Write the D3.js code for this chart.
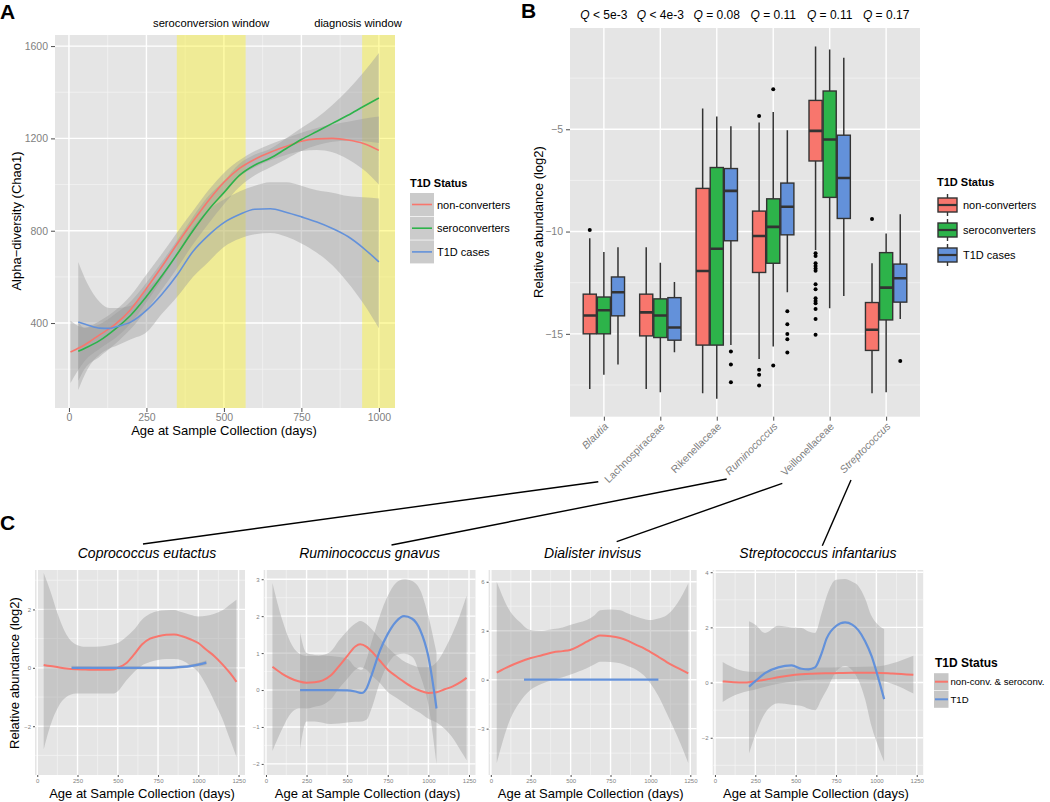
<!DOCTYPE html>
<html><head><meta charset="utf-8">
<script src="https://cdn.jsdelivr.net/npm/d3@7"></script>
<style>body{margin:0;background:#fff;}</style>
</head><body><script>
// ---------------- DATA ----------------
// Panel A: alpha diversity smooth fits (days, fit, lower CI, upper CI)
const ncDays = [5, 50, 100, 150, 200, 250, 300, 350, 400, 450, 500, 550, 600, 650, 700, 750, 800, 850, 900, 950, 1000];
const ncFit  = [275, 305, 350, 395, 460, 550, 645, 745, 840, 930, 1010, 1070, 1110, 1140, 1165, 1188, 1198, 1200, 1193, 1178, 1148];
const ncLo   = [140, 235, 290, 335, 400, 490, 590, 695, 795, 885, 970, 1035, 1075, 1105, 1128, 1145, 1150, 1140, 1110, 1065, 1000];
const ncHi   = [410, 380, 410, 455, 520, 610, 700, 795, 885, 975, 1050, 1105, 1145, 1175, 1200, 1225, 1245, 1260, 1272, 1285, 1295];

const scDays = [30, 50, 100, 150, 200, 250, 300, 350, 400, 450, 500, 550, 600, 650, 700, 750, 800, 850, 900, 950, 1000];
const scFit  = [278, 290, 325, 375, 435, 515, 605, 700, 800, 890, 965, 1040, 1085, 1115, 1155, 1195, 1230, 1265, 1300, 1338, 1375];
const scLo   = [150, 200, 255, 310, 375, 455, 545, 640, 740, 830, 915, 990, 1040, 1075, 1110, 1145, 1170, 1185, 1190, 1188, 1180];
const scHi   = [405, 380, 395, 440, 495, 575, 665, 760, 860, 950, 1015, 1090, 1130, 1155, 1200, 1245, 1290, 1345, 1410, 1485, 1570];

const tdDays = [30, 60, 100, 130, 150, 200, 250, 300, 350, 400, 450, 500, 550, 600, 650, 700, 750, 800, 850, 900, 950, 1000];
const tdFit  = [405, 392, 378, 377, 383, 405, 455, 525, 610, 710, 780, 835, 870, 893, 895, 880, 860, 838, 810, 775, 725, 665];
const tdLo   = [110, 200, 265, 290, 300, 330, 360, 440, 515, 600, 665, 730, 765, 785, 790, 775, 745, 705, 650, 575, 485, 378];
const tdHi   = [665, 570, 490, 465, 465, 475, 545, 610, 705, 815, 890, 935, 970, 995, 1010, 1010, 995, 975, 965, 950, 945, 940];

const seroWindow = [348, 570];
const diagWindow = [946, 1060];
const aXTicks = [0, 250, 500, 750, 1000];
const aYTicks = [400, 800, 1200, 1600];

const statusLabels = ["non-converters", "seroconverters", "T1D cases"];

// Panel B: boxplot stats [lower whisker, Q1, median, Q3, upper whisker]
const taxa = ["Blautia", "Lachnospiraceae", "Rikenellaceae", "Ruminococcus", "Veillonellaceae", "Streptococcus"];
const taxaItalic = [true, false, false, true, false, true];
const qLabels = ["< 5e-3", "< 4e-3", "= 0.08", "= 0.11", "= 0.11", "= 0.17"];
const bNonconv = [
  [-17.7, -15.0, -14.1, -13.06, -10.33],
  [-17.7, -15.1, -13.95, -13.06, -10.77],
  [-17.9, -15.55, -11.93, -7.89, -3.99],
  [-16.23, -12.0, -10.22, -9.0, -4.67],
  [-10.9, -6.55, -5.08, -3.59, -0.95],
  [-17.9, -15.81, -14.8, -13.47, -11.55]];
const bSero = [
  [-17.0, -15.0, -13.85, -13.2, -11.0],
  [-17.85, -15.18, -14.1, -13.29, -11.52],
  [-18.17, -15.55, -10.84, -6.87, -4.37],
  [-15.62, -11.55, -9.77, -8.4, -4.16],
  [-13.75, -8.33, -5.5, -3.13, -1.1],
  [-17.85, -14.32, -12.74, -11.03, -10.09]];
const bT1D = [
  [-16.5, -14.12, -12.97, -12.22, -10.77],
  [-15.9, -15.31, -14.69, -13.23, -12.46],
  [-15.55, -10.45, -8.01, -6.92, -4.85],
  [-12.97, -10.16, -8.79, -7.63, -5.05],
  [-13.15, -9.36, -7.38, -5.29, -1.5],
  [-14.28, -13.45, -12.28, -11.59, -9.15]];
const bNonconvOut = [[-9.93], [], [], [-4.35, -16.76, -17.0, -17.52],
  [-11.06, -11.2, -11.55, -11.68, -11.8, -11.91, -12.58, -12.82, -13.26, -13.39, -13.5, -13.78, -14.27, -15.05], [-9.39]];
const bSeroOut = [[], [], [], [-3.05, -16.55], [], []];
const bT1DOut = [[], [], [-15.86, -16.5, -17.37], [-13.9, -14.53, -15.01, -15.26, -15.91], [], [-16.33]];
const bYTicks = [-15, -10, -5];

// Panel C: species trajectories
const ceRedDays = [40, 80, 130, 180, 240, 300, 360, 420, 470, 500, 550, 600, 650, 700, 750, 800, 850, 900, 950, 1000, 1050, 1100, 1150, 1200, 1237];
const ceRedFit  = [0.1, 0.06, 0.02, -0.02, -0.05, -0.06, -0.07, -0.07, -0.06, 0.0, 0.15, 0.45, 0.8, 1.0, 1.08, 1.13, 1.14, 1.08, 0.98, 0.85, 0.62, 0.4, 0.12, -0.2, -0.48];
const ceRedHi   = [3.25, 2.65, 1.8, 1.15, 0.8, 0.72, 0.72, 0.75, 0.8, 0.85, 1.05, 1.3, 1.65, 1.85, 1.95, 1.97, 1.98, 1.9, 1.82, 1.76, 1.78, 1.85, 1.97, 2.18, 2.33];
const ceRedLo   = [-2.8, -2.0, -1.34, -1.0, -0.88, -0.88, -0.88, -0.88, -0.88, -0.8, -0.45, -0.15, 0.08, 0.2, 0.27, 0.3, 0.3, 0.25, 0.08, -0.15, -0.6, -1.15, -1.75, -2.5, -3.05];
const ceBlueDays = [213, 300, 400, 500, 600, 700, 800, 850, 900, 950, 1000, 1050];
const ceBlueFit  = [0, 0, 0, 0, 0, 0, 0, 0.01, 0.03, 0.06, 0.11, 0.18];
const ceBlueHi   = [0.07, 0.06, 0.05, 0.05, 0.05, 0.05, 0.05, 0.06, 0.08, 0.11, 0.17, 0.26];
const ceBlueLo   = [-0.07, -0.06, -0.05, -0.05, -0.05, -0.05, -0.05, -0.04, -0.02, 0.01, 0.05, 0.1];

const rgRedDays = [40, 100, 150, 200, 250, 300, 350, 400, 450, 500, 550, 580, 620, 650, 700, 750, 800, 850, 900, 950, 1000, 1050, 1100, 1150, 1200, 1235];
const rgRedFit  = [0.63, 0.44, 0.32, 0.24, 0.2, 0.21, 0.26, 0.4, 0.65, 0.92, 1.18, 1.24, 1.17, 1.05, 0.8, 0.55, 0.38, 0.22, 0.08, -0.02, -0.08, -0.06, 0.02, 0.1, 0.22, 0.33];
const rgRedHi   = [2.9, 1.9, 1.3, 1.0, 0.92, 0.92, 0.95, 1.05, 1.35, 1.6, 1.8, 1.87, 1.78, 1.65, 1.4, 1.15, 0.95, 0.78, 0.68, 0.62, 0.62, 0.75, 1.1, 1.55, 2.1, 2.55];
const rgRedLo   = [-1.65, -1.05, -0.65, -0.5, -0.5, -0.45, -0.4, -0.25, 0.05, 0.3, 0.55, 0.62, 0.55, 0.4, 0.2, -0.05, -0.2, -0.35, -0.5, -0.62, -0.78, -0.88, -1.05, -1.3, -1.65, -1.9];
const rgBlueDays = [210, 250, 300, 400, 500, 550, 590, 620, 650, 700, 750, 800, 850, 900, 950, 1000, 1050];
const rgBlueFit  = [0, 0, 0, 0, -0.01, -0.04, -0.08, 0.05, 0.4, 1.05, 1.52, 1.85, 2.0, 1.93, 1.62, 0.9, -0.5];
const rgBlueHi   = [1.55, 1.0, 0.95, 0.92, 0.85, 0.62, 0.55, 0.85, 1.3, 2.0, 2.55, 2.9, 3.0, 2.95, 2.7, 2.0, 1.0];
const rgBlueLo   = [-1.6, -0.85, -0.85, -0.92, -0.88, -0.86, -0.85, -0.8, -0.5, 0.2, 0.7, 0.95, 0.98, 0.9, 0.4, -0.4, -2.0];

const diRedDays = [37, 120, 180, 246, 320, 392, 450, 496, 550, 601, 650, 685, 750, 810, 860, 914, 960, 998, 1050, 1102, 1170, 1237];
const diRedFit  = [0.43, 0.84, 1.08, 1.31, 1.5, 1.68, 1.75, 1.82, 2.05, 2.33, 2.58, 2.7, 2.66, 2.55, 2.38, 2.12, 1.92, 1.71, 1.4, 1.08, 0.72, 0.38];
const diRedHi   = [6.0, 4.2, 3.55, 3.05, 3.0, 3.1, 3.2, 3.35, 3.5, 3.65, 3.95, 4.25, 4.3, 4.25, 4.05, 3.85, 3.72, 3.65, 3.75, 3.95, 4.7, 5.9];
const diRedLo   = [-5.1, -2.45, -1.4, -0.65, -0.25, 0.0, 0.15, 0.3, 0.5, 0.7, 0.95, 1.1, 1.08, 1.0, 0.82, 0.6, 0.25, -0.2, -1.0, -2.05, -3.5, -5.1];
const diBlueDays = [208, 1050];
const diBlueFit  = [0, 0];
const diBlueHi   = [0, 0];
const diBlueLo   = [0, 0];

const siRedDays = [48, 100, 176, 250, 310, 400, 496, 600, 723, 850, 992, 1100, 1229];
const siRedFit  = [0.04, 0.02, 0.0, 0.05, 0.1, 0.2, 0.28, 0.32, 0.34, 0.36, 0.36, 0.33, 0.28];
const siRedHi   = [0.75, 0.58, 0.42, 0.38, 0.4, 0.46, 0.52, 0.54, 0.55, 0.56, 0.58, 0.7, 0.97];
const siRedLo   = [-0.7, -0.52, -0.35, -0.25, -0.15, -0.03, 0.05, 0.1, 0.12, 0.13, 0.1, -0.05, -0.4];
const siBlueDays = [211, 250, 310, 392, 475, 537, 580, 620, 660, 692, 750, 806, 850, 888, 930, 971, 1010, 1048];
const siBlueFit  = [-0.15, 0.05, 0.34, 0.55, 0.62, 0.5, 0.48, 0.55, 1.05, 1.6, 2.05, 2.18, 2.1, 1.9, 1.5, 0.95, 0.2, -0.6];
const siBlueHi   = [2.22, 2.1, 1.8, 2.06, 2.0, 1.98, 1.85, 1.8, 2.5, 3.13, 3.73, 3.75, 3.65, 3.5, 3.05, 2.4, 2.1, 1.94];
const siBlueLo   = [-2.57, -1.9, -1.11, -0.75, -0.8, -0.85, -0.95, -1.0, -0.6, -0.27, 0.4, 0.6, 0.45, 0.1, -0.6, -1.6, -2.3, -2.87];

const cXTicks = [0, 250, 500, 750, 1000, 1250];
const cStatusLabels = ["non-conv. & seroconv.", "T1D"];

// ---------------- STYLE ----------------
const FONT = '"Liberation Sans", Arial, Helvetica, sans-serif';
const BG = '#E5E5E5';
const RED = '#F8766D', GREEN = '#2DB34A', BLUE = '#6391DA';
const RIBBON = '#999999', RIB_OP = 0.4;
const TICK_TXT = '#7F7F7F';
const fmtInt = d => d3.format('d')(d);

const svg = d3.select('body').append('svg')
  .attr('width', 1050).attr('height', 802)
  .style('font-family', FONT);
svg.append('rect').attr('width', 1050).attr('height', 802).attr('fill', '#fff');
const defs = svg.append('defs');
let clipN = 0;

function zip(xs, a, b, c) { return xs.map((d, i) => ({x: d, y: a[i], lo: b ? b[i] : null, hi: c ? c[i] : null})); }

// panel background + grid; ext = [x0, x1, yTop, yBottom]
function panel(ext, xs, ys, xMaj, xMin, yMaj, yMin) {
  const [x0, x1, yt, yb] = ext;
  const g = svg.append('g');
  g.append('rect').attr('x', x0).attr('y', yt).attr('width', x1 - x0).attr('height', yb - yt).attr('fill', BG);
  g.selectAll('.vmin').data(xMin).join('line').attr('x1', d => xs(d)).attr('x2', d => xs(d)).attr('y1', yt).attr('y2', yb).attr('stroke', '#F2F2F2').attr('stroke-width', 0.8);
  g.selectAll('.hmin').data(yMin).join('line').attr('y1', d => ys(d)).attr('y2', d => ys(d)).attr('x1', x0).attr('x2', x1).attr('stroke', '#F2F2F2').attr('stroke-width', 0.8);
  g.selectAll('.vmaj').data(xMaj).join('line').attr('x1', d => xs(d)).attr('x2', d => xs(d)).attr('y1', yt).attr('y2', yb).attr('stroke', '#fff').attr('stroke-width', 1.4);
  g.selectAll('.hmaj').data(yMaj).join('line').attr('y1', d => ys(d)).attr('y2', d => ys(d)).attr('x1', x0).attr('x2', x1).attr('stroke', '#fff').attr('stroke-width', 1.4);
  const id = 'clip' + (clipN++);
  defs.append('clipPath').attr('id', id).append('rect').attr('x', x0).attr('y', yt).attr('width', x1 - x0).attr('height', yb - yt);
  return svg.append('g').attr('clip-path', `url(#${id})`);
}

function styleAxis(sel, fs) {
  sel.select('.domain').remove();
  sel.selectAll('.tick line').attr('stroke', '#4D4D4D');
  sel.selectAll('.tick text').attr('fill', TICK_TXT).style('font-size', fs + 'px').style('font-family', FONT);
}

function ribbon(g, xs, ys, data) {
  g.append('path').datum(data)
    .attr('d', d3.area().x(d => xs(d.x)).y0(d => ys(d.lo)).y1(d => ys(d.hi)).curve(d3.curveMonotoneX))
    .attr('fill', RIBBON).attr('fill-opacity', RIB_OP);
}
function fitLine(g, xs, ys, data, color, lw) {
  g.append('path').datum(data)
    .attr('d', d3.line().x(d => xs(d.x)).y(d => ys(d.y)).curve(d3.curveMonotoneX))
    .attr('fill', 'none').attr('stroke', color).attr('stroke-width', lw);
}

function tag(txt, x, y) {
  svg.append('text').attr('x', x).attr('y', y).text(txt)
    .style('font-size', '21px').style('font-weight', 'bold').attr('fill', '#000');
}

// ---------------- PANEL A ----------------
const xA = d3.scaleLinear().domain([-45, 1052]).range([55, 395]);
const yA = d3.scaleLinear().domain([32, 1648]).range([408, 35]);
const gA = panel([55, 395, 35, 408], xA, yA, aXTicks, [125, 375, 625, 875], aYTicks, [200, 600, 1000, 1400]);
[seroWindow, diagWindow].forEach(w => {
  gA.append('rect').attr('x', xA(w[0])).attr('width', xA(w[1]) - xA(w[0]))
    .attr('y', yA(1648)).attr('height', yA(32) - yA(1648))
    .attr('fill', '#FFF514').attr('fill-opacity', 0.38);
});
const aSeries = [
  [zip(ncDays, ncFit, ncLo, ncHi), RED],
  [zip(scDays, scFit, scLo, scHi), GREEN],
  [zip(tdDays, tdFit, tdLo, tdHi), BLUE]];
aSeries.forEach(s => ribbon(gA, xA, yA, s[0]));
aSeries.forEach(s => fitLine(gA, xA, yA, s[0], s[1], 1.6));

svg.append('g').attr('transform', 'translate(55,0)')
  .call(d3.axisLeft(yA).tickValues(aYTicks).tickFormat(fmtInt).tickSize(4).tickPadding(3)).call(s => styleAxis(s, 10.5));
svg.append('g').attr('transform', 'translate(0,408)')
  .call(d3.axisBottom(xA).tickValues(aXTicks).tickFormat(fmtInt).tickSize(4).tickPadding(2)).call(s => styleAxis(s, 10.5));
svg.append('text').attr('x', xA(459)).attr('y', 27).attr('text-anchor', 'middle').style('font-size', '11.2px').text('seroconversion window');
svg.append('text').attr('x', 358).attr('y', 27).attr('text-anchor', 'middle').style('font-size', '11.2px').text('diagnosis window');
svg.append('text').attr('x', 224).attr('y', 435).attr('text-anchor', 'middle').style('font-size', '13px').text('Age at Sample Collection (days)');
svg.append('text').attr('transform', 'translate(21,221) rotate(-90)').attr('text-anchor', 'middle').style('font-size', '13px').text('Alpha\u2212diversity (Chao1)');
tag('A', 0, 19);

// Legend A
const legA = svg.append('g');
legA.append('text').attr('x', 410).attr('y', 187).style('font-size', '11px').style('font-weight', 'bold').text('T1D Status');
[RED, GREEN, BLUE].forEach((c, i) => {
  const cy = 204.5 + i * 23.7;
  legA.append('rect').attr('x', 410).attr('y', cy - 11.5).attr('width', 24).attr('height', 23).attr('fill', '#CBCBCB');
  legA.append('line').attr('x1', 412).attr('x2', 432).attr('y1', cy).attr('y2', cy).attr('stroke', c).attr('stroke-width', 1.6);
  legA.append('text').attr('x', 437).attr('y', cy + 4).style('font-size', '11px').text(statusLabels[i]);
});

// ---------------- PANEL B ----------------
const bStep = 350 / 6.2;
const xB = d3.scalePoint().domain(taxa).range([570 + 0.6 * bStep, 570 + 5.6 * bStep]);
const yB = d3.scaleLinear().domain([-19.05, -0.05]).range([416.7, 28]);
const gB = panel([570, 920, 28, 416.7], xB, yB, taxa, [], bYTicks, [-17.5, -12.5, -7.5, -2.5]);
const groups = [[bNonconv, bNonconvOut, RED], [bSero, bSeroOut, GREEN], [bT1D, bT1DOut, BLUE]];
const bw = 0.25 * bStep;
groups.forEach((grp, gi) => {
  const off = (gi - 1) * bw;
  taxa.forEach((t, ti) => {
    const s = grp[0][ti];
    const cx = xB(t) + off;
    gB.append('line').attr('x1', cx).attr('x2', cx).attr('y1', yB(s[0])).attr('y2', yB(s[4])).attr('stroke', '#333').attr('stroke-width', 1.5);
    gB.append('rect').attr('x', cx - bw / 2 + 0.5).attr('width', bw - 1).attr('y', yB(s[3])).attr('height', yB(s[1]) - yB(s[3]))
      .attr('fill', grp[2]).attr('stroke', '#333').attr('stroke-width', 1.4);
    gB.append('line').attr('x1', cx - bw / 2 + 0.5).attr('x2', cx + bw / 2 - 0.5).attr('y1', yB(s[2])).attr('y2', yB(s[2])).attr('stroke', '#333').attr('stroke-width', 2.6);
    gB.selectAll(null).data(grp[1][ti]).join('circle').attr('cx', cx).attr('cy', d => yB(d)).attr('r', 2).attr('fill', '#000');
  });
});
svg.append('g').attr('transform', 'translate(570,0)')
  .call(d3.axisLeft(yB).tickValues(bYTicks).tickSize(4).tickPadding(3)).call(s => styleAxis(s, 10.5));
svg.append('g').attr('transform', 'translate(0,416.7)')
  .call(d3.axisBottom(xB).tickSize(4).tickFormat('')).call(s => styleAxis(s, 10));
taxa.forEach((t, i) => {
  svg.append('text').attr('transform', `translate(${xB(t) + 5},427) rotate(-45)`)
    .attr('text-anchor', 'end').style('font-size', '10.5px').attr('fill', TICK_TXT)
    .style('font-style', taxaItalic[i] ? 'italic' : 'normal').text(t);
  const q = svg.append('text').attr('x', xB(t)).attr('y', 19).attr('text-anchor', 'middle').style('font-size', '12px');
  q.append('tspan').style('font-style', 'italic').text('Q');
  q.append('tspan').text(' ' + qLabels[i]);
});
svg.append('text').attr('transform', 'translate(543,222) rotate(-90)').attr('text-anchor', 'middle').style('font-size', '13px').text('Relative abundance (log2)');
tag('B', 521, 18);

const legB = svg.append('g');
legB.append('text').attr('x', 937).attr('y', 186).style('font-size', '11px').style('font-weight', 'bold').text('T1D Status');
[RED, GREEN, BLUE].forEach((c, i) => {
  const cy = 205 + i * 25;
  legB.append('line').attr('x1', 947.5).attr('x2', 947.5).attr('y1', cy - 11).attr('y2', cy + 11).attr('stroke', '#333').attr('stroke-width', 1.4);
  legB.append('rect').attr('x', 938).attr('y', cy - 7).attr('width', 19).attr('height', 14).attr('fill', c).attr('stroke', '#333').attr('stroke-width', 1.4);
  legB.append('line').attr('x1', 938).attr('x2', 957).attr('y1', cy).attr('y2', cy).attr('stroke', '#333').attr('stroke-width', 2.2);
  legB.append('text').attr('x', 963).attr('y', cy + 4).style('font-size', '11px').text(statusLabels[i]);
});

// ---------------- PANEL C ----------------
const cPanels = [
  {title: 'Coprococcus eutactus', xr: [35, 245], yd: [-3.67, 3.35], yMaj: [-2, 0, 2], yMin: [-3, -1, 1, 3],
   red: zip(ceRedDays, ceRedFit, ceRedLo, ceRedHi), blue: zip(ceBlueDays, ceBlueFit, ceBlueLo, ceBlueHi), conn: [[598.3, 481.7], [143, 544]]},
  {title: 'Ruminococcus gnavus', xr: [263.7, 475.5], yd: [-2.3, 3.25], yMaj: [-2, -1, 0, 1, 2, 3], yMin: [-1.5, -0.5, 0.5, 1.5, 2.5],
   red: zip(rgRedDays, rgRedFit, rgRedLo, rgRedHi), blue: zip(rgBlueDays, rgBlueFit, rgBlueLo, rgBlueHi), conn: [[726.7, 479], [391.5, 545]]},
  {title: 'Dialister invisus', xr: [488.6, 696.7], yd: [-5.84, 6.72], yMaj: [-3, 0, 3, 6], yMin: [-4.5, -1.5, 1.5, 4.5],
   red: zip(diRedDays, diRedFit, diRedLo, diRedHi), blue: zip(diBlueDays, diBlueFit, diBlueLo, diBlueHi), conn: [[782.3, 483.3], [616.7, 541.7]]},
  {title: 'Streptococcus infantarius', xr: [712.7, 923.2], yd: [-3.35, 4.08], yMaj: [-2, 0, 2, 4], yMin: [-3, -1, 1, 3],
   red: zip(siRedDays, siRedFit, siRedLo, siRedHi), blue: zip(siBlueDays, siBlueFit, siBlueLo, siBlueHi), conn: [[851, 480], [822.3, 545.7]]}
];
cPanels.forEach((p, i) => {
  const xs = d3.scaleLinear().domain([-14, 1290]).range(p.xr);
  const ys = d3.scaleLinear().domain(p.yd).range([775, 570]);
  const g = panel([p.xr[0], p.xr[1], 570, 775], xs, ys, cXTicks, [125, 375, 625, 875, 1125], p.yMaj, p.yMin);
  ribbon(g, xs, ys, p.red);
  ribbon(g, xs, ys, p.blue);
  fitLine(g, xs, ys, p.red, RED, 2);
  fitLine(g, xs, ys, p.blue, BLUE, 2.2);
  svg.append('g').attr('transform', `translate(${p.xr[0]},0)`)
    .call(d3.axisLeft(ys).tickValues(p.yMaj).tickFormat(fmtInt).tickSize(2).tickPadding(2)).call(s => styleAxis(s, 6));
  svg.append('g').attr('transform', 'translate(0,775)')
    .call(d3.axisBottom(xs).tickValues(cXTicks).tickFormat(fmtInt).tickSize(2).tickPadding(1.5)).call(s => styleAxis(s, 6));
  const cx = (p.xr[0] + p.xr[1]) / 2;
  svg.append('text').attr('x', cx + (i === 0 ? 7 : 0)).attr('y', 558).attr('text-anchor', 'middle')
    .style('font-size', '14px').style('font-style', 'italic').text(p.title);
  svg.append('text').attr('x', cx + (i === 0 ? 2 : -2)).attr('y', 798).attr('text-anchor', 'middle')
    .style('font-size', '13px').text('Age at Sample Collection (days)');
  svg.append('line').attr('x1', p.conn[0][0]).attr('y1', p.conn[0][1]).attr('x2', p.conn[1][0]).attr('y2', p.conn[1][1])
    .attr('stroke', '#000').attr('stroke-width', 1.4);
});
svg.append('text').attr('transform', 'translate(19,673) rotate(-90)').attr('text-anchor', 'middle').style('font-size', '13px').text('Relative abundance (log2)');
tag('C', 0, 530);

const legC = svg.append('g');
legC.append('text').attr('x', 935).attr('y', 667).style('font-size', '12px').style('font-weight', 'bold').text('T1D Status');
[RED, BLUE].forEach((c, i) => {
  const cy = 681.7 + i * 17.6;
  legC.append('rect').attr('x', 934).attr('y', cy - 8.5).attr('width', 14.5).attr('height', 17).attr('fill', '#C6C6C6');
  legC.append('line').attr('x1', 935).attr('x2', 948).attr('y1', cy).attr('y2', cy).attr('stroke', c).attr('stroke-width', 2);
  legC.append('text').attr('x', 950.5).attr('y', cy + 3.5).style('font-size', '9.6px').text(cStatusLabels[i]);
});
</script></body></html>
